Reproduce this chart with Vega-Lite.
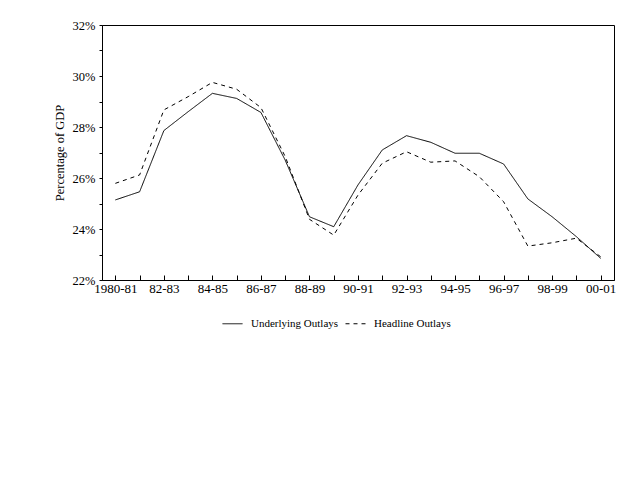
{
  "$schema": "https://vega.github.io/schema/vega-lite/v6.json",
  "width": 512,
  "height": 255,
  "autosize": {"type": "none"},
  "padding": {"left": 102, "top": 25, "right": 26, "bottom": 200},
  "background": "white",
  "data": {
    "values": [
      {"year": "1980-81", "series": "Underlying Outlays", "pct": 25.14},
      {"year": "81-82", "series": "Underlying Outlays", "pct": 25.46},
      {"year": "82-83", "series": "Underlying Outlays", "pct": 27.86},
      {"year": "83-84", "series": "Underlying Outlays", "pct": 28.6},
      {"year": "84-85", "series": "Underlying Outlays", "pct": 29.32},
      {"year": "85-86", "series": "Underlying Outlays", "pct": 29.12},
      {"year": "86-87", "series": "Underlying Outlays", "pct": 28.57},
      {"year": "87-88", "series": "Underlying Outlays", "pct": 26.7},
      {"year": "88-89", "series": "Underlying Outlays", "pct": 24.48},
      {"year": "89-90", "series": "Underlying Outlays", "pct": 24.09},
      {"year": "90-91", "series": "Underlying Outlays", "pct": 25.73},
      {"year": "91-92", "series": "Underlying Outlays", "pct": 27.1},
      {"year": "92-93", "series": "Underlying Outlays", "pct": 27.66},
      {"year": "93-94", "series": "Underlying Outlays", "pct": 27.4},
      {"year": "94-95", "series": "Underlying Outlays", "pct": 26.97},
      {"year": "95-96", "series": "Underlying Outlays", "pct": 26.97},
      {"year": "96-97", "series": "Underlying Outlays", "pct": 26.55},
      {"year": "97-98", "series": "Underlying Outlays", "pct": 25.18},
      {"year": "98-99", "series": "Underlying Outlays", "pct": 24.48},
      {"year": "99-00", "series": "Underlying Outlays", "pct": 23.7},
      {"year": "00-01", "series": "Underlying Outlays", "pct": 22.85},
      {"year": "1980-81", "series": "Headline Outlays", "pct": 25.79},
      {"year": "81-82", "series": "Headline Outlays", "pct": 26.12},
      {"year": "82-83", "series": "Headline Outlays", "pct": 28.67},
      {"year": "83-84", "series": "Headline Outlays", "pct": 29.19},
      {"year": "84-85", "series": "Headline Outlays", "pct": 29.75},
      {"year": "85-86", "series": "Headline Outlays", "pct": 29.48},
      {"year": "86-87", "series": "Headline Outlays", "pct": 28.76},
      {"year": "87-88", "series": "Headline Outlays", "pct": 26.84},
      {"year": "88-89", "series": "Headline Outlays", "pct": 24.38},
      {"year": "89-90", "series": "Headline Outlays", "pct": 23.76},
      {"year": "90-91", "series": "Headline Outlays", "pct": 25.33},
      {"year": "91-92", "series": "Headline Outlays", "pct": 26.58},
      {"year": "92-93", "series": "Headline Outlays", "pct": 27.03},
      {"year": "93-94", "series": "Headline Outlays", "pct": 26.62},
      {"year": "94-95", "series": "Headline Outlays", "pct": 26.67},
      {"year": "95-96", "series": "Headline Outlays", "pct": 26.05},
      {"year": "96-97", "series": "Headline Outlays", "pct": 25.07},
      {"year": "97-98", "series": "Headline Outlays", "pct": 23.33},
      {"year": "98-99", "series": "Headline Outlays", "pct": 23.46},
      {"year": "99-00", "series": "Headline Outlays", "pct": 23.64},
      {"year": "00-01", "series": "Headline Outlays", "pct": 22.91}
    ]
  },
  "mark": {"type": "line", "color": "black", "strokeWidth": 1},
  "encoding": {
    "x": {
      "field": "year",
      "type": "ordinal",
      "sort": null,
      "scale": {"type": "point", "padding": 0.55},
      "title": null,
      "axis": {
        "labelAngle": 0,
        "tickSize": -5,
        "labelPadding": 7,
        "labelFontSize": 13,
        "labelExpr": "indexof(['1980-81','82-83','84-85','86-87','88-89','90-91','92-93','94-95','96-97','98-99','00-01'], datum.value) >= 0 ? datum.value : ''"
      }
    },
    "y": {
      "field": "pct",
      "type": "quantitative",
      "scale": {"domain": [22, 32], "nice": false, "zero": false},
      "title": "Percentage of GDP",
      "axis": {
        "values": [22, 23, 24, 25, 26, 27, 28, 29, 30, 31, 32],
        "labelExpr": "datum.value % 2 == 0 ? datum.value + '%' : ''",
        "tickSize": 3,
        "labelPadding": 4,
        "labelFontSize": 12.5,
        "grid": false,
        "titlePadding": 6
      }
    },
    "strokeDash": {
      "field": "series",
      "type": "nominal",
      "scale": {
        "domain": ["Underlying Outlays", "Headline Outlays"],
        "range": [[1, 0], [4, 4]]
      },
      "legend": {
        "title": null,
        "orient": "none",
        "direction": "horizontal",
        "legendX": 120,
        "legendY": 288,
        "symbolType": "stroke",
        "symbolSize": 400,
        "symbolStrokeColor": "black",
        "symbolStrokeWidth": 1,
        "columnPadding": 4,
        "labelOffset": 8
      }
    }
  },
  "config": {
    "font": "Liberation Serif",
    "view": {"stroke": "black", "strokeWidth": 1},
    "axis": {
      "domainColor": "black",
      "tickColor": "black",
      "labelColor": "black",
      "titleColor": "black",
      "labelFont": "Liberation Serif",
      "titleFont": "Liberation Serif",
      "labelFontSize": 12,
      "titleFontSize": 12.5,
      "titleFontWeight": "normal",
      "grid": false
    },
    "legend": {
      "labelFont": "Liberation Serif",
      "labelFontSize": 11,
      "labelColor": "black"
    }
  }
}
